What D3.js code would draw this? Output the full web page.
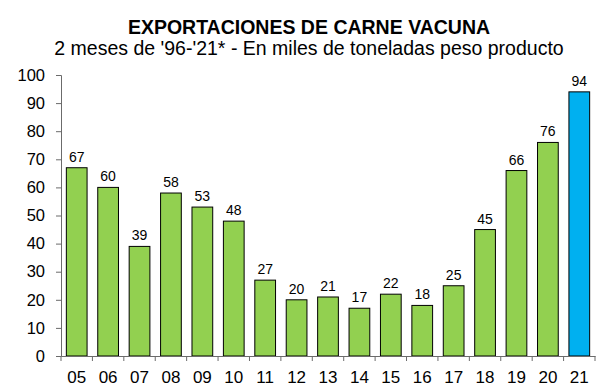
<!DOCTYPE html>
<html><head><meta charset="utf-8">
<script src="https://cdn.jsdelivr.net/npm/d3@7"></script>
<style>body{margin:0;background:#fff}svg{display:block;font-family:"Liberation Sans",Arial,sans-serif}</style>
</head><body><svg id="c" width="611" height="391"></svg>
<script>
const categories = ["05","06","07","08","09","10","11","12","13","14","15","16","17","18","19","20","21"];
const values = [67,60,39,58,53,48,27,20,21,17,22,18,25,45,66,76,94];
const yTicks = [0,10,20,30,40,50,60,70,80,90,100];
const title = "EXPORTACIONES DE CARNE VACUNA";
const subtitle = "2 meses de '96-'21* - En miles de toneladas peso producto";

const svg = d3.select("#c");
const x = d3.scaleBand().domain(categories).range([61, 595]).paddingInner(0.34).paddingOuter(0.17);
const y = d3.scaleLinear().domain([0, 100]).range([356, 75]);

svg.append("text").attr("x", 309).attr("y", 34).attr("text-anchor", "middle")
  .attr("font-size", 19.5).attr("font-weight", "bold").text(title);
svg.append("text").attr("x", 309).attr("y", 55).attr("text-anchor", "middle")
  .attr("font-size", 19.5).text(subtitle);

svg.selectAll("rect.bar").data(values).join("rect").attr("class", "bar")
  .attr("x", (d, i) => x(categories[i])).attr("width", x.bandwidth())
  .attr("y", d => y(d)).attr("height", d => y(0) - y(d))
  .attr("fill", (d, i) => i === categories.length - 1 ? "#00B0F0" : "#92D050")
  .attr("stroke", "#000").attr("stroke-width", 1);

svg.selectAll("text.val").data(values).join("text").attr("class", "val")
  .attr("x", (d, i) => x(categories[i]) + x.bandwidth() / 2)
  .attr("y", d => y(d) - 6).attr("text-anchor", "middle")
  .attr("font-size", 14).text(d => d);

// Y axis
const yAxis = svg.append("g").attr("transform", "translate(61,0)")
  .call(d3.axisLeft(y).tickValues(yTicks).tickSize(5).tickPadding(11));
yAxis.select(".domain").attr("stroke", "#6b6b6b");
yAxis.selectAll(".tick line").attr("stroke", "#6b6b6b");
yAxis.selectAll(".tick text").attr("font-size", 16.5).attr("fill", "#000").attr("font-family", "Liberation Sans, Arial, sans-serif");

// X axis
const xAxis = svg.append("g").attr("transform", "translate(0,356)")
  .call(d3.axisBottom(x).tickSize(0).tickPadding(15));
xAxis.select(".domain").attr("stroke", "#6b6b6b");
xAxis.selectAll(".tick text").attr("font-size", 17).attr("fill", "#000").attr("font-family", "Liberation Sans, Arial, sans-serif");
const step = x.step();
const boundaries = d3.range(categories.length + 1).map(i => 61 + i * step);
svg.append("g").selectAll("line").data(boundaries).join("line")
  .attr("x1", d => d).attr("x2", d => d).attr("y1", 356).attr("y2", 361)
  .attr("stroke", "#6b6b6b");
</script></body></html>
